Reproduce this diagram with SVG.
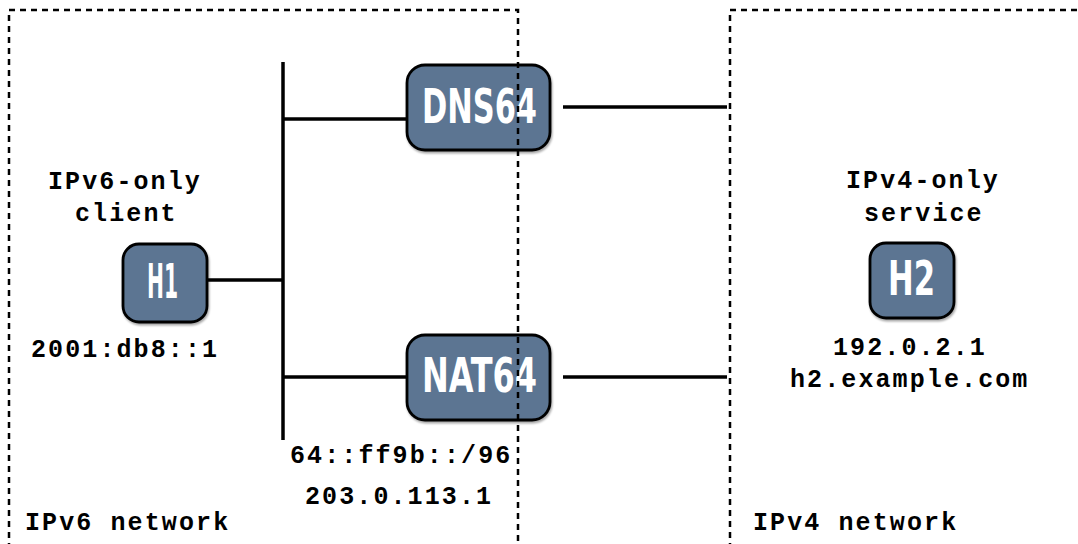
<svg xmlns="http://www.w3.org/2000/svg" width="1078" height="544" viewBox="0 0 1078 544">
<style>
.bg{fill:#ffffff}
.region{fill:none;stroke:#000;stroke-width:2.5;stroke-dasharray:6 5}
.wire{stroke:#000;stroke-width:3.5;fill:none}
.box{fill:#5b7592;stroke:#000;stroke-width:2.8}
.nl{font-family:"Liberation Sans Narrow","DejaVu Sans Condensed","Liberation Sans",sans-serif;font-weight:bold;font-size:48px;fill:#ffffff;text-anchor:middle}
.lbl{font-family:"Liberation Mono","DejaVu Sans Mono",monospace;font-weight:bold;font-size:25px;fill:#000;letter-spacing:2.1px}
</style>
<defs>
<filter id="sh" x="-10%" y="-10%" width="130%" height="130%">
<feGaussianBlur in="SourceAlpha" stdDeviation="1.2"/>
<feOffset dx="1" dy="1.5" result="b"/>
<feComponentTransfer><feFuncA type="linear" slope="0.35"/></feComponentTransfer>
<feMerge><feMergeNode/><feMergeNode in="SourceGraphic"/></feMerge>
</filter>
</defs>
<rect class="bg" x="0" y="0" width="1078" height="544"/>
<g id="connectors">
<line class="wire" x1="283" y1="62" x2="283" y2="440"/>
<line class="wire" x1="208" y1="280" x2="283" y2="280"/>
<line class="wire" x1="283" y1="119" x2="407" y2="119"/>
<line class="wire" x1="563" y1="107" x2="727" y2="107"/>
<line class="wire" x1="283" y1="377" x2="407" y2="377"/>
<line class="wire" x1="563" y1="377" x2="727" y2="377"/>
</g>
<g id="H1">
<rect class="box" x="123" y="244" width="84" height="78" rx="16" filter="url(#sh)"/>
<text class="nl" x="162.5" y="298" textLength="31" lengthAdjust="spacingAndGlyphs">H1</text>
<text class="lbl" x="48" y="189">IPv6-only</text>
<text class="lbl" x="75" y="221">client</text>
<text class="lbl" x="31" y="357">2001:db8::1</text>
</g>
<g id="DNS64">
<rect class="box" x="407" y="65" width="143" height="85" rx="18" filter="url(#sh)"/>
<text class="nl" x="479.5" y="123" textLength="115" lengthAdjust="spacingAndGlyphs">DNS64</text>
</g>
<g id="NAT64">
<rect class="box" x="407" y="335" width="143" height="85" rx="18" filter="url(#sh)"/>
<text class="nl" x="479.5" y="392" textLength="115" lengthAdjust="spacingAndGlyphs">NAT64</text>
<text class="lbl" x="290" y="463">64::ff9b::/96</text>
<text class="lbl" x="305" y="504">203.0.113.1</text>
</g>
<g id="H2">
<rect class="box" x="870" y="243" width="84" height="75" rx="16" filter="url(#sh)"/>
<text class="nl" x="911.5" y="295" textLength="47" lengthAdjust="spacingAndGlyphs">H2</text>
<text class="lbl" x="846" y="188">IPv4-only</text>
<text class="lbl" x="864" y="221">service</text>
<text class="lbl" x="833" y="355">192.0.2.1</text>
<text class="lbl" x="790" y="387">h2.example.com</text>
</g>
<g id="ipv6-network">
<path class="region" d="M9 560 V10 H518 V560"/>
<text class="lbl" x="25" y="530">IPv6 network</text>
</g>
<g id="ipv4-network">
<path class="region" d="M730 560 V10 H1090"/>
<text class="lbl" x="753" y="530">IPv4 network</text>
</g>
</svg>
